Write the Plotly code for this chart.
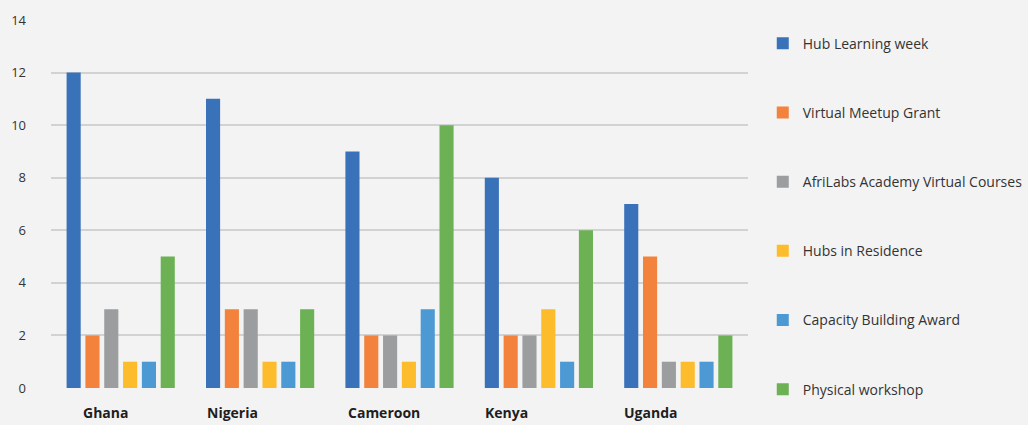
import plotly.graph_objects as go

# Programme participation by country
countries = ["Ghana", "Nigeria", "Cameroon", "Kenya", "Uganda"]
label_shift = [-15, -28, -16, -32, -28]

hub_learning_week = [12, 11, 9, 8, 7]
virtual_meetup_grant = [2, 3, 2, 2, 5]
academy_virtual_courses = [3, 3, 2, 2, 1]
hubs_in_residence = [1, 1, 1, 3, 1]
capacity_building_award = [1, 1, 3, 1, 1]
physical_workshop = [5, 3, 10, 6, 2]

series = [
    ("Hub Learning week", hub_learning_week, "#3a72ba"),
    ("Virtual Meetup Grant", virtual_meetup_grant, "#f2823c"),
    ("AfriLabs Academy Virtual Courses", academy_virtual_courses, "#9c9d9f"),
    ("Hubs in Residence", hubs_in_residence, "#fdbc2c"),
    ("Capacity Building Award", capacity_building_award, "#4c99d4"),
    ("Physical workshop", physical_workshop, "#6db155"),
]

fig = go.Figure()
for name, values, color in series:
    fig.add_trace(go.Bar(
        x=countries, y=values, name=name, legendgroup=name,
        marker=dict(color=color, line=dict(width=0)),
    ))

# Country names sit low under each group, a little left of centre
for country, shift in zip(countries, label_shift):
    fig.add_annotation(
        x=country, xref="x", y=0, yref="y domain", yshift=-35, xshift=shift,
        text=f"<b>{country}</b>", showarrow=False, yanchor="bottom",
        borderpad=0,
        font=dict(family="Open Sans", size=14, color="#1e1e1e"),
    )

H = 425
bg = "#f3f3f3"
fig.update_layout(
    width=1028, height=H,
    margin=dict(l=51, r=280, t=0, b=0, autoexpand=False),
    paper_bgcolor=bg, plot_bgcolor=bg,
    barmode="group", bargap=0.19, bargroupgap=0.25,
    font=dict(family="Open Sans", size=13, color="#333333"),
    legend=dict(
        xref="container", yref="container",
        x=0.742, y=0.935, xanchor="left", yanchor="top",
        tracegroupgap=48, bgcolor="rgba(0,0,0,0)", maxheight=1.0,
        font=dict(family="Open Sans", size=14, color="#333333"),
    ),
    xaxis=dict(showticklabels=False, showgrid=False, zeroline=False,
               showline=False, ticks="", automargin=False),
    yaxis=dict(range=[0, 14], dtick=2, domain=[37 / H, 1 - 20 / H],
               showgrid=True, gridcolor="#d2d2d2", automargin=False,
               gridwidth=2, zeroline=False, showline=False,
               ticklabelstandoff=24,
               tickfont=dict(family="Open Sans", size=13, color="#333333")),
)

fig.write_html("out.html")
